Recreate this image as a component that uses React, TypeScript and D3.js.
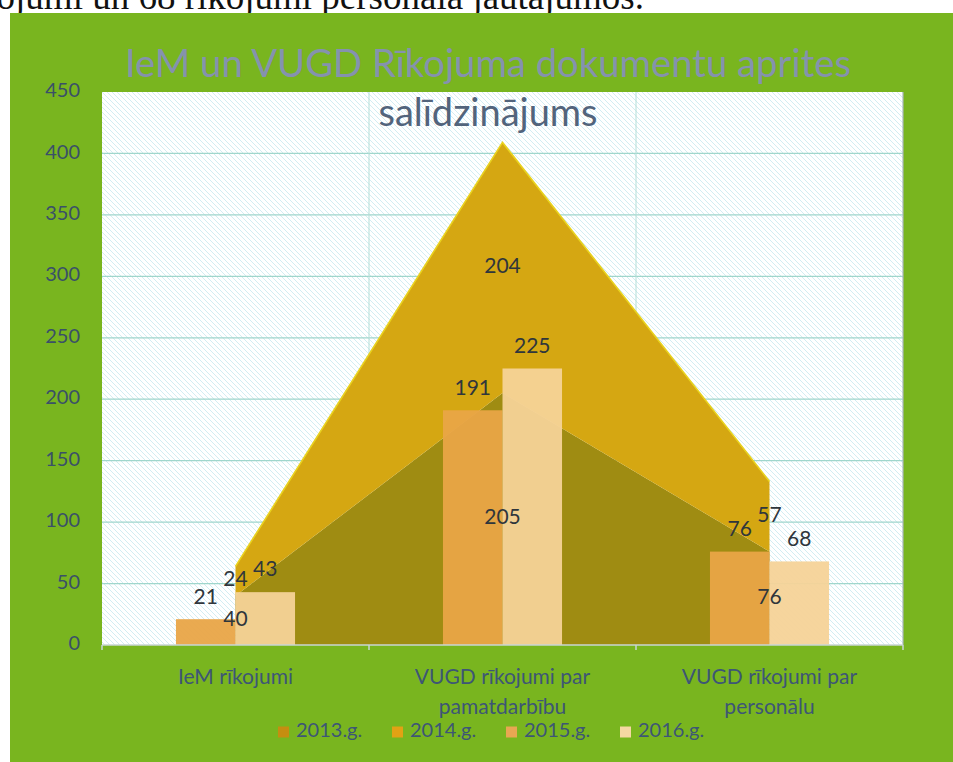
import * as d3 from "d3";

// categories and series
const categories = [
  "IeM rīkojumi",
  "VUGD rīkojumi par pamatdarbību",
  "VUGD rīkojumi par personālu",
];
const categoryLines = [
  ["IeM rīkojumi"],
  ["VUGD rīkojumi par", "pamatdarbību"],
  ["VUGD rīkojumi par", "personālu"],
];
const areaYears = ["2013.g.", "2014.g."];
const barYears = ["2015.g.", "2016.g."];
const values2013 = [40, 205, 76];
const values2014 = [24, 204, 57];
const values2015 = [21, 191, 76];
const values2016 = [43, 225, 68];
const yTicks = [0, 50, 100, 150, 200, 250, 300, 350, 400, 450];

const W = 953;
const H = 762;
const plot = { left: 102, right: 903, top: 92, bottom: 645 };

const areaFill = ["#9f8c12", "#d5a712"];
const barFill = ["#e9a547", "#f5d398"];
const legendFill = ["#c58e10", "#e2a214", "#e8a752", "#f5d8a2"];
const legendItems = [...areaYears, ...barYears];

const font = "Lato, 'Open Sans', sans-serif";

export default function App() {
  const x0 = d3
    .scaleBand<string>()
    .domain(categories)
    .range([plot.left, plot.right])
    .padding(0);
  const bw = x0.bandwidth();
  const cx = (c: string) => (x0(c) ?? 0) + bw / 2;

  const y = d3.scaleLinear().domain([0, 450]).range([plot.bottom, plot.top]);

  const groupW = bw * 0.446;
  const x1 = d3.scaleBand<string>().domain(barYears).range([0, groupW]).padding(0);

  const rows = categories.map((c, i) => ({
    cat: c,
    "2013.g.": values2013[i],
    "2014.g.": values2014[i],
  }));
  const stacked = d3.stack<any>().keys(areaYears)(rows);

  const area = d3
    .area<any>()
    .x((d) => cx(d.data.cat))
    .y0((d) => y(d[0]))
    .y1((d) => y(d[1]));
  const topLine = d3
    .line<any>()
    .x((d) => cx(d.data.cat))
    .y((d) => y(d[1]));

  const barSeries = [values2015, values2016];

  return (
    <svg
      width={W}
      height={H}
      style={{ position: "absolute", left: 0, top: 0, background: "#fff" }}
      fontFamily={font}
    >
      <defs>
        <pattern id="hatch" width={5} height={5} patternUnits="userSpaceOnUse">
          <rect width={5} height={5} fill="#ffffff" />
          <path d="M-1,-1 L6,6 M-1,4 L1,6 M4,-1 L6,1" stroke="#cdebf0" strokeWidth={0.9} />
        </pattern>
      </defs>

      {/* line of document text above the chart, cut by the page edge as in the scan */}
      <text
        x={644}
        y={9}
        textAnchor="end"
        fontFamily="'Liberation Serif', 'Times New Roman', serif"
        fontSize={37}
        fill="#111"
      >
        rīkojumi un 68 rīkojumi personāla jautājumos.
      </text>

      {/* chart area */}
      <rect x={10} y={13} width={W - 10} height={H - 13} fill="#79b51f" />

      {/* plot area */}
      <rect
        x={plot.left}
        y={plot.top}
        width={plot.right - plot.left}
        height={plot.bottom - plot.top}
        fill="url(#hatch)"
      />

      {/* gridlines */}
      {yTicks.slice(1, -1).map((t) => (
        <line
          key={t}
          x1={plot.left}
          x2={plot.right}
          y1={y(t)}
          y2={y(t)}
          stroke="#9fd6cc"
          strokeWidth={1.2}
        />
      ))}
      {categories.map((c, i) =>
        i === 0 ? null : (
          <line
            key={c}
            x1={x0(c)}
            x2={x0(c)}
            y1={plot.top}
            y2={plot.bottom}
            stroke="#b3ded8"
            strokeWidth={1}
          />
        ),
      )}
      <line
        x1={plot.right}
        x2={plot.right}
        y1={plot.top}
        y2={plot.bottom}
        stroke="#aab8bc"
        strokeWidth={1.2}
      />

      {/* stacked areas */}
      {stacked.map((s, i) => (
        <path key={s.key} d={area(s) ?? ""} fill={areaFill[i]} />
      ))}
      <path
        d={topLine(stacked[1] as any) ?? ""}
        fill="none"
        stroke="#e9d21e"
        strokeWidth={1.6}
      />

      {/* bars */}
      {barSeries.map((vals, si) =>
        categories.map((c, ci) => {
          const bx = cx(c) - groupW / 2 + (x1(barYears[si]) ?? 0);
          return (
            <rect
              key={`${si}-${ci}`}
              x={bx}
              y={y(vals[ci])}
              width={x1.bandwidth()}
              height={y(0) - y(vals[ci])}
              fill={barFill[si]}
              opacity={0.95}
            />
          );
        }),
      )}

      {/* x axis line and ticks */}
      <line
        x1={plot.left}
        x2={plot.right}
        y1={plot.bottom}
        y2={plot.bottom}
        stroke="#c9d6d4"
        strokeWidth={1.5}
      />
      {[...categories.map((c) => x0(c) ?? 0), plot.right].map((xv, i) => (
        <line
          key={i}
          x1={xv}
          x2={xv}
          y1={plot.bottom}
          y2={plot.bottom + 5}
          stroke="#c9d6d4"
          strokeWidth={1.5}
        />
      ))}

      {/* area data labels (centred in their band) */}
      {stacked.map((s) =>
        s.map((d: any, ci: number) => (
          <text
            key={`${s.key}-${ci}`}
            x={cx(d.data.cat)}
            y={y((d[0] + d[1]) / 2)}
            textAnchor="middle"
            dominantBaseline="middle"
            fontSize={21}
            fill="#2f363c"
          >
            {d[1] - d[0]}
          </text>
        )),
      )}

      {/* bar data labels */}
      {barSeries.map((vals, si) =>
        categories.map((c, ci) => {
          const bx = cx(c) - groupW / 2 + (x1(barYears[si]) ?? 0) + x1.bandwidth() / 2;
          return (
            <text
              key={`bl-${si}-${ci}`}
              x={bx}
              y={y(vals[ci]) - 21}
              textAnchor="middle"
              dominantBaseline="middle"
              fontSize={21}
              fill="#2f363c"
            >
              {vals[ci]}
            </text>
          );
        }),
      )}

      {/* y axis labels */}
      {yTicks.map((t) => (
        <text
          key={t}
          x={80}
          y={y(t)}
          textAnchor="end"
          dominantBaseline="middle"
          fontSize={20}
          fill="#3a5068"
        >
          {t}
        </text>
      ))}

      {/* category labels */}
      {categories.map((c, ci) =>
        categoryLines[ci].map((ln, li) => (
          <text
            key={`${c}-${li}`}
            x={cx(c)}
            y={679 + li * 30}
            textAnchor="middle"
            dominantBaseline="middle"
            fontSize={21}
            fill="#3d5676"
          >
            {ln}
          </text>
        )),
      )}

      {/* title */}
      <text
        x={488}
        y={77}
        textAnchor="middle"
        fontSize={38}
        fill="#8592ae"
        textLength={726}
        lengthAdjust="spacingAndGlyphs"
      >
        IeM un VUGD Rīkojuma dokumentu aprites
      </text>
      <text x={488} y={126} textAnchor="middle" fontSize={38} fill="#52647c">
        salīdzinājums
      </text>

      {/* legend */}
      {legendItems.map((name, i) => {
        const lx = 278 + i * 114;
        return (
          <g key={name} transform={`translate(${lx},732)`}>
            <rect x={0} y={-5.5} width={11} height={11} fill={legendFill[i]} />
            <text
              x={18}
              y={0}
              dominantBaseline="middle"
              fontSize={20}
              fill="#3d5676"
            >
              {name}
            </text>
          </g>
        );
      })}
    </svg>
  );
}
